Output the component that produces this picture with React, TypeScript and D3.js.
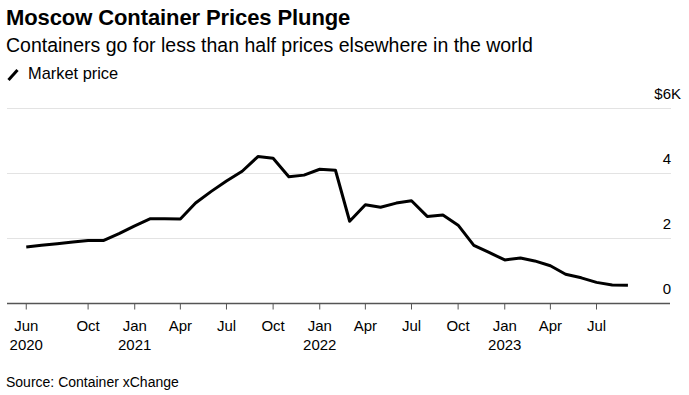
import React from "react";
import * as d3 from "d3";

const months: string[] = [
  "2020-06", "2020-07", "2020-08", "2020-09", "2020-10", "2020-11", "2020-12",
  "2021-01", "2021-02", "2021-03", "2021-04", "2021-05", "2021-06", "2021-07",
  "2021-08", "2021-09", "2021-10", "2021-11", "2021-12",
  "2022-01", "2022-02", "2022-03", "2022-04", "2022-05", "2022-06", "2022-07",
  "2022-08", "2022-09", "2022-10", "2022-11", "2022-12",
  "2023-01", "2023-02", "2023-03", "2023-04", "2023-05", "2023-06", "2023-07",
  "2023-08", "2023-09",
];

const marketPrice: number[] = [
  1.74, 1.79, 1.84, 1.89, 1.94, 1.94, 2.15,
  2.39, 2.61, 2.61, 2.60, 3.09, 3.45, 3.77,
  4.07, 4.52, 4.47, 3.90, 3.95,
  4.13, 4.10, 2.53, 3.04, 2.96, 3.09, 3.16,
  2.68, 2.72, 2.41, 1.79, 1.57,
  1.34, 1.40, 1.31, 1.16, 0.90, 0.79, 0.65,
  0.57, 0.56,
];

const xTicks: string[] = [
  "2020-06", "2020-10", "2021-01", "2021-04", "2021-07", "2021-10",
  "2022-01", "2022-04", "2022-07", "2022-10", "2023-01", "2023-04", "2023-07",
];
const yTicks: number[] = [0, 2, 4, 6];

const title = "Moscow Container Prices Plunge";
const subtitle = "Containers go for less than half prices elsewhere in the world";
const legendLabel = "Market price";
const source = "Source: Container xChange";

const W = 689;
const H = 395;
const FONT = "'Liberation Sans', Arial, Helvetica, sans-serif";

const parse = d3.timeParse("%Y-%m");
const monthFmt = d3.timeFormat("%b");

export default function App() {
  const left = 7;
  const right = 670;
  const top = 108.5;
  const bottom = 303.5;

  const x = d3
    .scaleTime()
    .domain([new Date(2020, 3, 24), new Date(2023, 10, 23)])
    .range([left, right]);
  const y = d3.scaleLinear().domain([0, 6]).range([bottom, top]);

  const data = months.map((m, i) => ({ date: parse(m) as Date, v: marketPrice[i] }));
  const line = d3
    .line<{ date: Date; v: number }>()
    .x((d) => x(d.date))
    .y((d) => y(d.v));

  return (
    <svg
      width={W}
      height={H}
      style={{ position: "absolute", left: 0, top: 0, background: "#fff" }}
      fontFamily={FONT}
    >
      <rect width={W} height={H} fill="#fff" />
      <text x={6} y={25} fontSize={22} fontWeight="bold" fill="#000" letterSpacing={-0.1}>
        {title}
      </text>
      <text x={6} y={52} fontSize={19.5} fill="#000">
        {subtitle}
      </text>
      <line x1={8.5} y1={80} x2={17.5} y2={70} stroke="#000" strokeWidth={3} />
      <text x={28} y={79} fontSize={16.4} fill="#000">
        {legendLabel}
      </text>

      {yTicks.map((t) => (
        <g key={t}>
          {t !== 0 && (
            <line x1={left} x2={671} y1={y(t)} y2={y(t)} stroke="#e3e3e3" strokeWidth={1} />
          )}
          <text x={671} y={y(t) - 9.5} fontSize={15} textAnchor="end" fill="#000">
            {t === 6 ? "$6" : String(t)}
          </text>
          {t === 6 && (
            <text x={671} y={y(t) - 9.5} fontSize={15} textAnchor="start" fill="#000">
              K
            </text>
          )}
        </g>
      ))}

      <path
        d={line(data) || ""}
        fill="none"
        stroke="#000"
        strokeWidth={3}
        strokeLinejoin="round"
        strokeLinecap="butt"
      />

      <line x1={left} x2={right} y1={bottom} y2={bottom} stroke="#555" strokeWidth={1.5} />
      {xTicks.map((m) => {
        const d = parse(m) as Date;
        const xx = x(d);
        const showYear = d.getMonth() === 0 || m === xTicks[0];
        return (
          <g key={m}>
            <line x1={xx} x2={xx} y1={bottom} y2={bottom + 6} stroke="#555" strokeWidth={1} />
            <text x={xx} y={331} fontSize={15} textAnchor="middle" fill="#000">
              {monthFmt(d)}
            </text>
            {showYear && (
              <text x={xx} y={350} fontSize={15} textAnchor="middle" fill="#000">
                {d.getFullYear()}
              </text>
            )}
          </g>
        );
      })}

      <text x={6} y={387} fontSize={14} fill="#000">
        {source}
      </text>
    </svg>
  );
}
